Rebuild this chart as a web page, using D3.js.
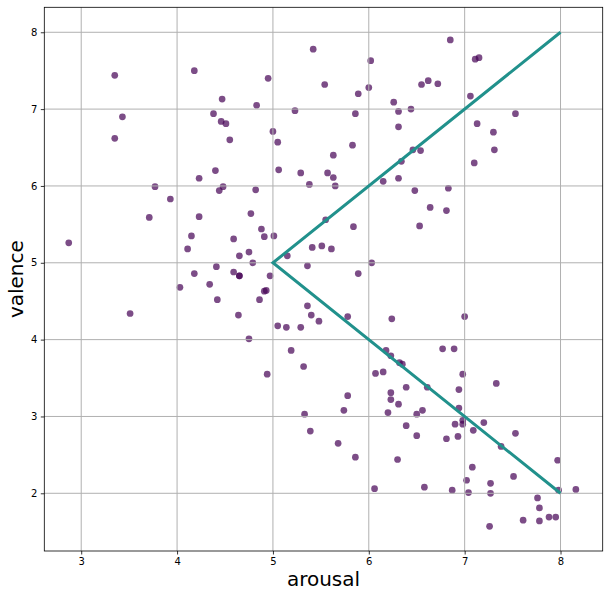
<!DOCTYPE html>
<html><head><meta charset="utf-8">
<script src="https://cdn.jsdelivr.net/npm/d3@7"></script>
<style>body{margin:0;background:#fff;}svg{display:block;}</style>
</head><body>
<script>
const arousal = [
2.87,3.35,3.43,3.35,3.77,3.93,3.71,4.18,4.47,4.38,4.46,4.51,4.55,4.95,4.83,5.23,5.00,5.05,5.42,5.54,5.06,5.29,5.38,5.57,4.40,4.23,4.48,4.44,4.82,4.23,4.77,4.88,4.91,5.01,4.15,4.11,4.59,4.75,4.65,4.79,5.15,5.41,5.51,5.36,4.41,
3.51,4.03,4.18,4.34,4.42,4.59,4.65,4.65,4.64,4.75,4.86,4.91,4.93,4.97,4.94,5.05,5.14,5.29,5.19,5.32,5.36,5.40,5.48,5.33,5.39,
6.85,6.02,6.00,5.89,7.11,7.15,6.55,6.62,6.72,7.06,6.26,6.31,6.44,5.86,7.53,6.31,7.13,7.30,7.31,7.10,5.83,5.63,6.46,6.54,6.34,5.63,5.65,6.15,6.31,6.48,6.83,6.64,6.81,6.53,5.84,5.55,5.61,6.03,5.89,
5.78,6.24,7.00,6.18,6.23,6.32,6.35,6.77,6.89,6.07,6.15,6.98,7.33,6.39,6.61,6.94,5.78,6.23,6.23,6.31,5.74,6.20,6.50,6.56,6.94,6.98,6.98,6.90,7.09,7.20,6.39,6.50,6.81,6.93,7.53,7.38,5.68,5.86,6.30,7.97,7.08,7.51,7.02,7.27,6.06,6.58,6.87,7.04,7.27,7.98,8.16,7.76,7.78,7.61,7.78,7.88,7.95,7.26
];
const valence = [
5.26,7.44,6.90,6.62,5.99,5.83,5.59,7.50,7.13,6.94,6.84,6.81,6.60,7.40,7.05,6.98,6.71,6.57,7.78,7.32,6.21,6.17,6.02,6.17,6.20,6.10,5.99,5.94,5.95,5.60,5.64,5.44,5.34,5.35,5.35,5.18,5.31,5.14,5.09,5.00,5.09,5.20,5.22,4.96,4.95,
4.34,4.68,4.86,4.72,4.52,4.88,4.83,4.83,4.32,4.01,4.52,4.63,4.64,4.83,3.55,4.18,4.16,4.16,3.86,3.65,4.44,4.32,4.24,3.03,2.81,
7.90,7.63,7.28,7.20,7.65,7.67,7.32,7.37,7.33,7.17,7.09,6.97,7.00,6.94,6.94,6.77,6.81,6.70,6.47,6.30,6.53,6.40,6.47,6.46,6.32,6.11,6.00,6.06,6.10,5.94,5.97,5.72,5.68,5.48,5.47,5.56,5.18,5.00,4.86,
4.30,4.27,4.30,3.86,3.79,3.70,3.68,3.88,3.88,3.56,3.58,3.55,3.43,3.38,3.38,3.35,3.27,3.31,3.22,3.16,3.08,3.05,3.03,3.08,3.11,2.95,2.90,2.90,2.82,2.92,2.88,2.75,2.71,2.74,2.78,2.61,2.65,2.47,2.44,2.43,2.34,2.22,2.17,2.13,2.06,2.08,2.04,2.01,2.00,2.04,2.05,1.94,1.81,1.65,1.64,1.69,1.69,1.57
];
const lineArousal = [8, 5, 8];
const lineValence = [8, 5, 2];
const xTicks = [3, 4, 5, 6, 7, 8];
const yTicks = [2, 3, 4, 5, 6, 7, 8];

const W = 608, H = 598;
const L = 44.3, R = 602.7, T = 7.3, B = 551;
const svg = d3.select("body").append("svg").attr("width", W).attr("height", H);
const x = d3.scaleLinear().domain([2.615, 8.44]).range([L, R]);
const y = d3.scaleLinear().domain([1.249, 8.325]).range([B, T]);

// points
svg.append("g").selectAll("circle").data(arousal.map((a, i) => [a, valence[i]]))
  .join("circle")
  .attr("cx", d => x(d[0])).attr("cy", d => y(d[1])).attr("r", 3.35)
  .attr("fill", "#440154").attr("fill-opacity", 0.7);

// grid (matplotlib draws grid above scatter by default)
const grid = svg.append("g").attr("stroke", "#b0b0b0").attr("stroke-width", 1);
xTicks.forEach(t => grid.append("line").attr("x1", x(t)).attr("x2", x(t)).attr("y1", T).attr("y2", B));
yTicks.forEach(t => grid.append("line").attr("y1", y(t)).attr("y2", y(t)).attr("x1", L).attr("x2", R));

// line
svg.append("path")
  .datum(lineArousal.map((a, i) => [a, lineValence[i]]))
  .attr("d", d3.line().x(d => x(d[0])).y(d => y(d[1])))
  .attr("fill", "none").attr("stroke", "#21918c").attr("stroke-width", 3);

// axes
const font = "DejaVu Sans, sans-serif";
const xa = svg.append("g").attr("transform", `translate(0,${B})`)
  .call(d3.axisBottom(x).tickValues(xTicks).tickSize(3.5).tickPadding(3.5).tickFormat(d3.format("d")));
const ya = svg.append("g").attr("transform", `translate(${L},0)`)
  .call(d3.axisLeft(y).tickValues(yTicks).tickSize(3.5).tickPadding(3.5).tickFormat(d3.format("d")));
[xa, ya].forEach(g => {
  g.select(".domain").remove();
  g.selectAll("text").attr("font-family", font).attr("font-size", 10).attr("fill", "#000");
  g.selectAll("line").attr("stroke", "#000").attr("stroke-width", 0.8);
});
svg.append("rect").attr("x", L).attr("y", T).attr("width", R - L).attr("height", B - T)
  .attr("fill", "none").attr("stroke", "#000").attr("stroke-width", 0.8);

svg.append("text").attr("x", (L + R) / 2).attr("y", 586).attr("text-anchor", "middle")
  .attr("font-family", font).attr("font-size", 20).attr("fill", "#000").text("arousal");
svg.append("text").attr("transform", `translate(23,${(T + B) / 2}) rotate(-90)`).attr("text-anchor", "middle")
  .attr("font-family", font).attr("font-size", 20).attr("fill", "#000").text("valence");
</script>
</body></html>
